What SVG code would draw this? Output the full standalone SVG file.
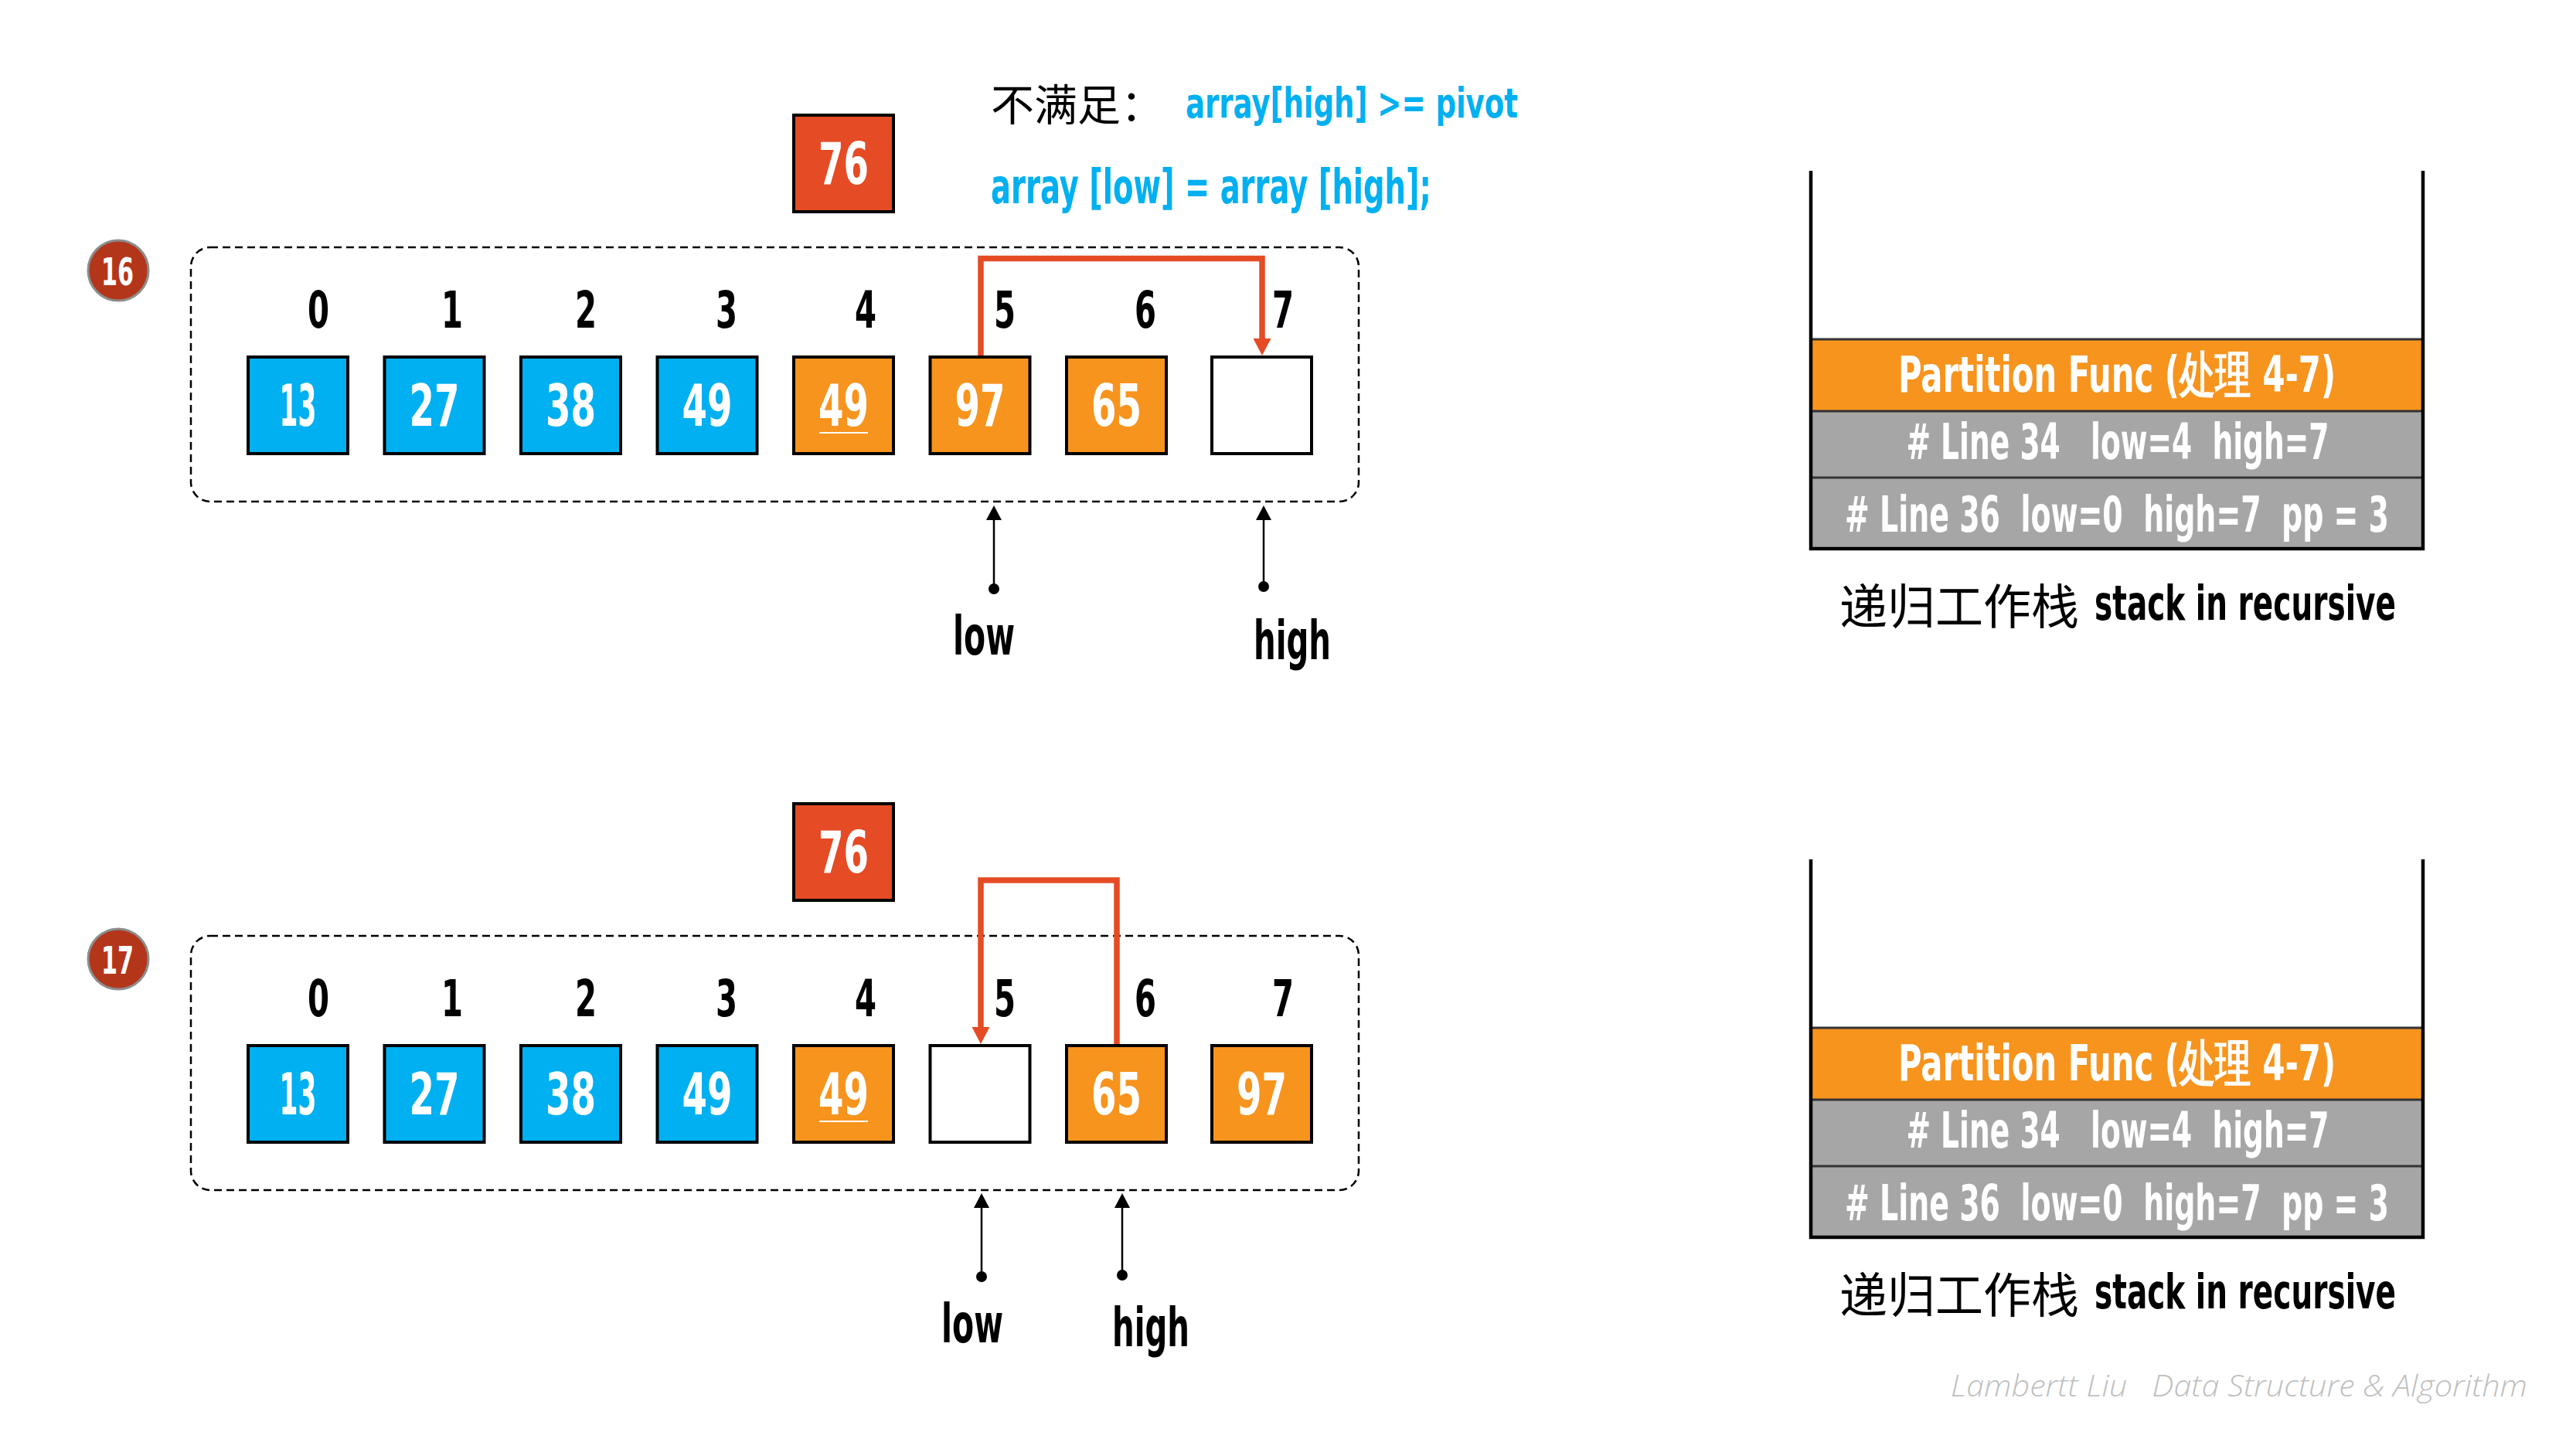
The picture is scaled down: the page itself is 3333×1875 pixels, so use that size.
<svg xmlns="http://www.w3.org/2000/svg" width="3333" height="1875" viewBox="0 0 3333 1875">
<defs>
<style>
.cf{font-family:"Liberation Sans Narrow","DejaVu Sans Condensed","Liberation Sans",sans-serif;font-weight:700;}
.cjk{font-family:"Noto Sans CJK SC","Noto Sans CJK TC",sans-serif;font-weight:400;}
.val{fill:#fff;font-size:74px;text-anchor:middle;}
.idx{fill:#000;font-size:66px;text-anchor:middle;}
.lbl{fill:#000;font-size:70px;}
.cyan{fill:#00B0F0;}
.band{fill:#fff;font-size:64px;text-anchor:middle;}
.box{stroke:#000;stroke-width:4;}
.blue{fill:#00B0F0;}
.orange{fill:#F7941E;}
.empty{fill:#fff;}
.pivot{fill:#E54B24;stroke:#000;stroke-width:4;}
.dash{fill:none;stroke:#000;stroke-width:2.5;stroke-dasharray:10 6;}
.step{fill:#B3361B;stroke:#8C8C8C;stroke-width:3;}
.red{fill:none;stroke:#E54B24;stroke-width:7.5;marker-end:url(#ra);}
.ptr{fill:none;stroke:#000;stroke-width:2.5;marker-end:url(#ba);}
.wall{fill:none;stroke:#000;stroke-width:4.5;}
.sep{stroke:#333;stroke-width:3;}
.foot{font-family:"Open Sans","DejaVu Sans",sans-serif;font-style:italic;font-weight:300;fill:#BFBFBF;font-size:38px;}
</style>
<marker id="ra" markerUnits="userSpaceOnUse" markerWidth="24" markerHeight="24" refX="0" refY="11.5" orient="auto" overflow="visible"><path d="M0 0 L22 11.5 L0 23 Z" fill="#E54B24"/></marker>
<marker id="ba" markerUnits="userSpaceOnUse" markerWidth="22" markerHeight="22" refX="0" refY="10" orient="auto" overflow="visible"><path d="M0 0 L19 10 L0 20 Z" fill="#000"/></marker>
</defs>
<rect width="3333" height="1875" fill="#fff"/>

<!-- ===== Step 16 ===== -->
<g id="step16">
<circle class="step" cx="153" cy="350" r="39"/>
<text class="cf" x="152" y="369" font-size="50" fill="#fff" text-anchor="middle" textLength="42" lengthAdjust="spacingAndGlyphs">16</text>
</g>
<g id="frame16"><rect class="dash" x="247" y="320" width="1511" height="329" rx="25"/></g>
<g id="cond16">
<text class="cjk" x="1282" y="156" font-size="56" fill="#000">不满足：</text>
<text class="cf cyan" x="1534" y="152" font-size="54" textLength="430" lengthAdjust="spacingAndGlyphs">array[high] &gt;= pivot</text>
<text class="cf cyan" x="1282" y="263" font-size="63" textLength="570" lengthAdjust="spacingAndGlyphs">array [low] = array [high];</text>
</g>
<g id="pivot16">
<rect class="pivot" x="1027" y="149" width="129" height="125"/>
<text class="cf val" x="1091.5" y="238" font-size="73" textLength="65" lengthAdjust="spacingAndGlyphs">76</text>
</g>
<g id="index16" class="cf idx">
<text x="412" y="424" textLength="28" lengthAdjust="spacingAndGlyphs">0</text>
<text x="585" y="424" textLength="28" lengthAdjust="spacingAndGlyphs">1</text>
<text x="758" y="424" textLength="28" lengthAdjust="spacingAndGlyphs">2</text>
<text x="940" y="424" textLength="28" lengthAdjust="spacingAndGlyphs">3</text>
<text x="1120" y="424" textLength="28" lengthAdjust="spacingAndGlyphs">4</text>
<text x="1300" y="424" textLength="28" lengthAdjust="spacingAndGlyphs">5</text>
<text x="1482" y="424" textLength="28" lengthAdjust="spacingAndGlyphs">6</text>
<text x="1660" y="424" textLength="28" lengthAdjust="spacingAndGlyphs">7</text>
</g>
<g id="t16_c0"><rect class="box blue" x="321" y="462" width="129" height="125"/><text class="cf val" x="385.5" y="551" textLength="48" lengthAdjust="spacingAndGlyphs">13</text></g>
<g id="t16_c1"><rect class="box blue" x="497.5" y="462" width="129" height="125"/><text class="cf val" x="562" y="551" textLength="65" lengthAdjust="spacingAndGlyphs">27</text></g>
<g id="t16_c2"><rect class="box blue" x="674" y="462" width="129" height="125"/><text class="cf val" x="738.5" y="551" textLength="65" lengthAdjust="spacingAndGlyphs">38</text></g>
<g id="t16_c3"><rect class="box blue" x="850.5" y="462" width="129" height="125"/><text class="cf val" x="915" y="551" textLength="65" lengthAdjust="spacingAndGlyphs">49</text></g>
<g id="t16_c4"><rect class="box orange" x="1027" y="462" width="129" height="125"/><text class="cf val" x="1091.5" y="551" textLength="65" lengthAdjust="spacingAndGlyphs">49</text><line x1="1060" y1="560" x2="1123" y2="560" stroke="#fff" stroke-width="2"/></g>
<g id="t16_c5"><rect class="box orange" x="1203.5" y="462" width="129" height="125"/><text class="cf val" x="1268" y="551" textLength="65" lengthAdjust="spacingAndGlyphs">97</text></g>
<g id="t16_c6"><rect class="box orange" x="1380" y="462" width="129" height="125"/><text class="cf val" x="1444.5" y="551" textLength="65" lengthAdjust="spacingAndGlyphs">65</text></g>
<g id="t16_c7"><rect class="box empty" x="1568" y="462" width="129" height="125"/></g>
<g id="labels16">
<text class="cf lbl" x="1233" y="847" textLength="80" lengthAdjust="spacingAndGlyphs">low</text>
<text class="cf lbl" x="1622" y="853" textLength="100" lengthAdjust="spacingAndGlyphs">high</text>
</g>

<!-- stack 16 -->
<g id="stack16">
<rect x="2345" y="439" width="788" height="93" fill="#F7941E"/>
<rect x="2345" y="532" width="788" height="86" fill="#A6A6A6"/>
<rect x="2345" y="618" width="788" height="92" fill="#A6A6A6"/>
<line class="sep" x1="2345" y1="439" x2="3133" y2="439"/>
<line class="sep" x1="2345" y1="532" x2="3133" y2="532"/>
<line class="sep" x1="2345" y1="618" x2="3133" y2="618"/>
<path class="wall" d="M2343 221 V710 H3135 V221"/>
<text class="cf band" x="2739" y="507" textLength="566" lengthAdjust="spacingAndGlyphs">Partition Func (处理 4-7)</text>
<text class="cf band" x="2740" y="594" xml:space="preserve" textLength="547" lengthAdjust="spacingAndGlyphs"># Line 34   low=4  high=7</text>
<text class="cf band" x="2739" y="688" font-size="62" xml:space="preserve" textLength="704" lengthAdjust="spacingAndGlyphs"># Line 36  low=0  high=7  pp = 3</text>
<text class="cjk" x="2380" y="808" font-size="62" fill="#000">递归工作栈</text>
<text class="cf" x="2710" y="802" font-size="63" fill="#000" textLength="390" lengthAdjust="spacingAndGlyphs">stack in recursive</text>
</g>

<!-- ===== Step 17 ===== -->
<g id="step17">
<circle class="step" cx="153" cy="1241" r="39"/>
<text class="cf" x="152" y="1260" font-size="50" fill="#fff" text-anchor="middle" textLength="42" lengthAdjust="spacingAndGlyphs">17</text>
</g>
<g id="frame17"><rect class="dash" x="247" y="1211" width="1511" height="329" rx="25"/></g>
<g id="pivot17">
<rect class="pivot" x="1027" y="1040" width="129" height="125"/>
<text class="cf val" x="1091.5" y="1129" font-size="73" textLength="65" lengthAdjust="spacingAndGlyphs">76</text>
</g>
<g id="index17" class="cf idx">
<text x="412" y="1315" textLength="28" lengthAdjust="spacingAndGlyphs">0</text>
<text x="585" y="1315" textLength="28" lengthAdjust="spacingAndGlyphs">1</text>
<text x="758" y="1315" textLength="28" lengthAdjust="spacingAndGlyphs">2</text>
<text x="940" y="1315" textLength="28" lengthAdjust="spacingAndGlyphs">3</text>
<text x="1120" y="1315" textLength="28" lengthAdjust="spacingAndGlyphs">4</text>
<text x="1300" y="1315" textLength="28" lengthAdjust="spacingAndGlyphs">5</text>
<text x="1482" y="1315" textLength="28" lengthAdjust="spacingAndGlyphs">6</text>
<text x="1660" y="1315" textLength="28" lengthAdjust="spacingAndGlyphs">7</text>
</g>
<g id="t17_c0"><rect class="box blue" x="321" y="1353" width="129" height="125"/><text class="cf val" x="385.5" y="1442" textLength="48" lengthAdjust="spacingAndGlyphs">13</text></g>
<g id="t17_c1"><rect class="box blue" x="497.5" y="1353" width="129" height="125"/><text class="cf val" x="562" y="1442" textLength="65" lengthAdjust="spacingAndGlyphs">27</text></g>
<g id="t17_c2"><rect class="box blue" x="674" y="1353" width="129" height="125"/><text class="cf val" x="738.5" y="1442" textLength="65" lengthAdjust="spacingAndGlyphs">38</text></g>
<g id="t17_c3"><rect class="box blue" x="850.5" y="1353" width="129" height="125"/><text class="cf val" x="915" y="1442" textLength="65" lengthAdjust="spacingAndGlyphs">49</text></g>
<g id="t17_c4"><rect class="box orange" x="1027" y="1353" width="129" height="125"/><text class="cf val" x="1091.5" y="1442" textLength="65" lengthAdjust="spacingAndGlyphs">49</text><line x1="1060" y1="1451" x2="1123" y2="1451" stroke="#fff" stroke-width="2"/></g>
<g id="t17_c5"><rect class="box empty" x="1203.5" y="1353" width="129" height="125"/></g>
<g id="t17_c6"><rect class="box orange" x="1380" y="1353" width="129" height="125"/><text class="cf val" x="1444.5" y="1442" textLength="65" lengthAdjust="spacingAndGlyphs">65</text></g>
<g id="t17_c7"><rect class="box orange" x="1568" y="1353" width="129" height="125"/><text class="cf val" x="1632.5" y="1442" textLength="65" lengthAdjust="spacingAndGlyphs">97</text></g>
<g id="labels17">
<text class="cf lbl" x="1218" y="1737" textLength="80" lengthAdjust="spacingAndGlyphs">low</text>
<text class="cf lbl" x="1439" y="1742" textLength="100" lengthAdjust="spacingAndGlyphs">high</text>
</g>

<!-- stack 17 -->
<g id="stack17">
<rect x="2345" y="1330" width="788" height="93" fill="#F7941E"/>
<rect x="2345" y="1423" width="788" height="86" fill="#A6A6A6"/>
<rect x="2345" y="1509" width="788" height="92" fill="#A6A6A6"/>
<line class="sep" x1="2345" y1="1330" x2="3133" y2="1330"/>
<line class="sep" x1="2345" y1="1423" x2="3133" y2="1423"/>
<line class="sep" x1="2345" y1="1509" x2="3133" y2="1509"/>
<path class="wall" d="M2343 1112 V1601 H3135 V1112"/>
<text class="cf band" x="2739" y="1398" textLength="566" lengthAdjust="spacingAndGlyphs">Partition Func (处理 4-7)</text>
<text class="cf band" x="2740" y="1485" xml:space="preserve" textLength="547" lengthAdjust="spacingAndGlyphs"># Line 34   low=4  high=7</text>
<text class="cf band" x="2739" y="1579" font-size="62" xml:space="preserve" textLength="704" lengthAdjust="spacingAndGlyphs"># Line 36  low=0  high=7  pp = 3</text>
<text class="cjk" x="2380" y="1699" font-size="62" fill="#000">递归工作栈</text>
<text class="cf" x="2710" y="1693" font-size="63" fill="#000" textLength="390" lengthAdjust="spacingAndGlyphs">stack in recursive</text>
</g>

<!-- connectors -->
<g id="connectors">
<path class="red" d="M1269 460 V334.5 H1633 V438"/>
<path class="ptr" d="M1286 762 V673"/>
<circle cx="1286" cy="762" r="7" fill="#000"/>
<path class="ptr" d="M1635 759 V673"/>
<circle cx="1635" cy="759" r="7" fill="#000"/>
<path class="red" d="M1445 1351 V1139 H1269 V1329"/>
<path class="ptr" d="M1270 1652 V1563"/>
<circle cx="1270" cy="1652" r="7" fill="#000"/>
<path class="ptr" d="M1452 1650 V1563"/>
<circle cx="1452" cy="1650" r="7" fill="#000"/>
</g>

<text class="foot" x="2524" y="1807" xml:space="preserve" textLength="746" lengthAdjust="spacingAndGlyphs">Lambertt Liu   Data Structure &amp; Algorithm</text>
</svg>
